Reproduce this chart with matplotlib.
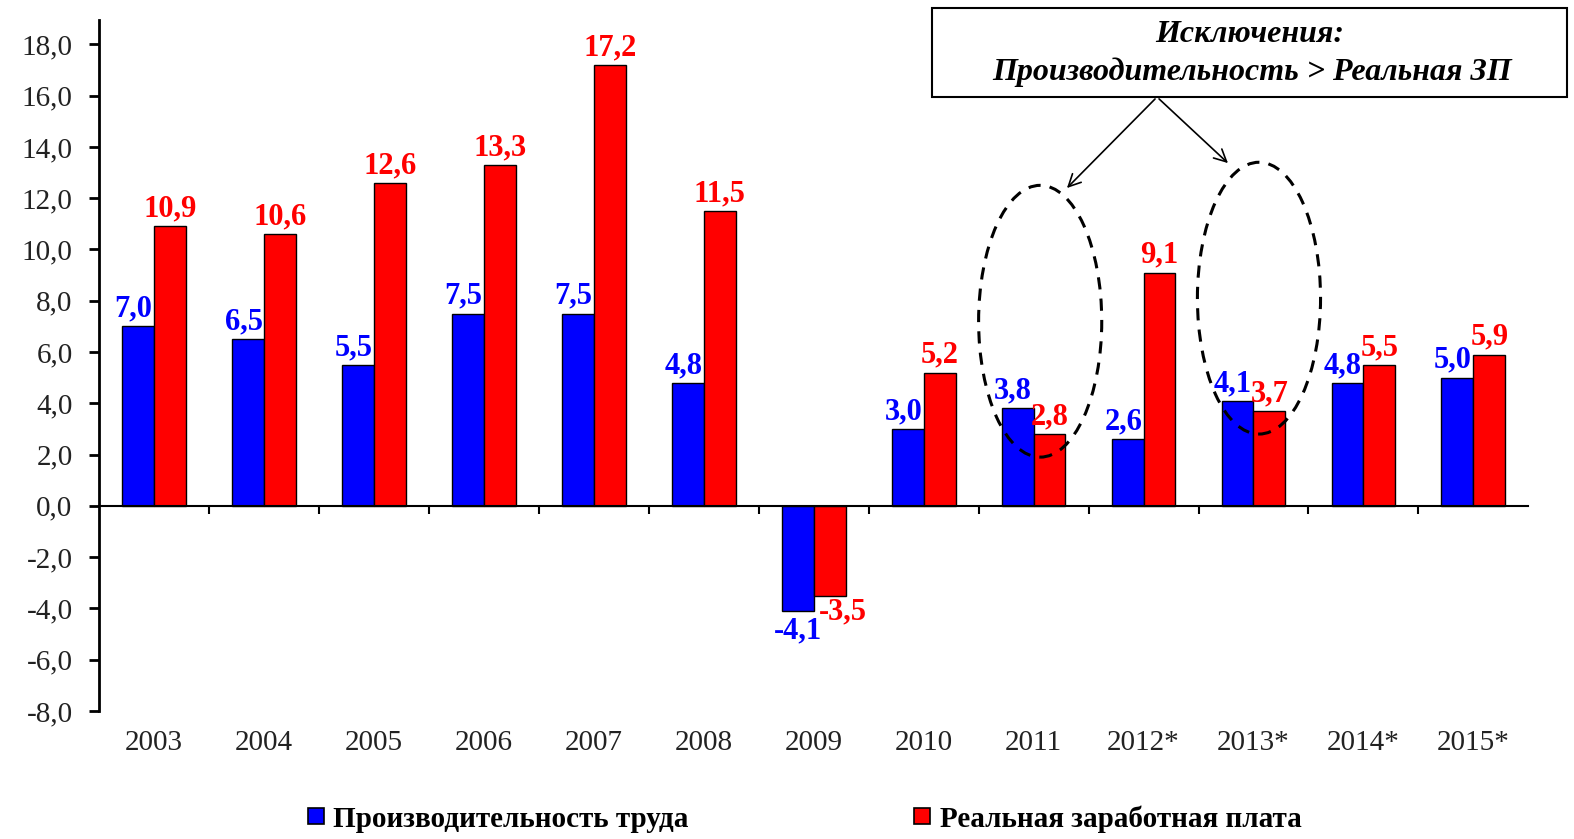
import numpy as np
import matplotlib
matplotlib.use("Agg")
import matplotlib.pyplot as plt
from matplotlib.patches import Ellipse, Rectangle
from matplotlib.ticker import FuncFormatter, MultipleLocator
from matplotlib.lines import Line2D

# data
years = ['2003', '2004', '2005', '2006', '2007', '2008', '2009', '2010',
         '2011', '2012*', '2013*', '2014*', '2015*']
productivity = [7.0, 6.5, 5.5, 7.5, 7.5, 4.8, -4.1, 3.0, 3.8, 2.6, 4.1, 4.8, 5.0]
real_wage = [10.9, 10.6, 12.6, 13.3, 17.2, 11.5, -3.5, 5.2, 2.8, 9.1, 3.7, 5.5, 5.9]
series_names = ['Производительность труда', 'Реальная заработная плата']
exceptions = ['2011', '2013*']   # years where productivity > real wage

plt.rcParams['font.family'] = ['Liberation Serif', 'DejaVu Serif']

fig = plt.figure(figsize=(15.74, 8.39), dpi=100)
ax = fig.add_axes([0.0629, 0.1526, 0.9081, 0.8236])

x = np.arange(len(years))
w = 0.29
blue = '#0000ff'
red = '#ff0000'

ax.bar(x - w / 2, productivity, w, color=blue, edgecolor='black', linewidth=1)
ax.bar(x + w / 2, real_wage, w, color=red, edgecolor='black', linewidth=1)

ax.set_xlim(-0.5, len(years) - 0.5)
ax.set_ylim(-8, 18.95)

# value labels
def fmt(v):
    return ('%.1f' % v).replace('.', ',')

lab_fs = 22
for xi, v in zip(x, productivity):
    if v >= 0:
        ax.annotate(fmt(v), (xi - w / 2 - 0.04, v), xytext=(0, 2), textcoords='offset points',
                    ha='center', va='bottom', color=blue, fontsize=lab_fs, fontweight='bold')
    else:
        ax.annotate(fmt(v), (xi - w / 2, v), xytext=(0, -4), textcoords='offset points',
                    ha='center', va='top', color=blue, fontsize=lab_fs, fontweight='bold')
for xi, v in zip(x, real_wage):
    if v >= 0:
        ax.annotate(fmt(v), (xi + w / 2, v), xytext=(0, 2), textcoords='offset points',
                    ha='center', va='bottom', color=red, fontsize=lab_fs, fontweight='bold')
    else:
        ax.annotate(fmt(v), (xi + w / 2 + 0.12, v), xytext=(0, -1), textcoords='offset points',
                    ha='center', va='top', color=red, fontsize=lab_fs, fontweight='bold')

# axes styling
for s in ['top', 'right']:
    ax.spines[s].set_visible(False)
ax.spines['left'].set_linewidth(2)
ax.spines['bottom'].set_position(('data', 0))
ax.spines['bottom'].set_linewidth(1.5)

ax.yaxis.set_major_locator(MultipleLocator(2))
ax.yaxis.set_major_formatter(FuncFormatter(lambda v, p: fmt(v)))
ax.tick_params(axis='y', direction='out', length=7, width=2, labelsize=21, pad=12,
               labelcolor='#222222')

ax.set_xticks(x)
ax.set_xticklabels([])
ax.tick_params(axis='x', which='major', length=0)
ax.set_xticks(np.arange(0.5, len(years) - 0.5, 1), minor=True)
ax.tick_params(axis='x', which='minor', direction='out', length=6, width=1.5)

for xi, lab in zip(x, years):
    ax.text(xi, -0.046, lab, transform=ax.get_xaxis_transform(), ha='center', va='center',
            fontsize=21, color='#222222')

# dashed ellipses around exceptions
ell_x = [years.index(e) for e in exceptions]
ell_y = [7.2, 8.1]
for ex, ey in zip(ell_x, ell_y):
    ax.add_patch(Ellipse((ex + 0.06 if ex == 8 else ex + 0.05, ey), 1.12, 10.6, fill=False,
                         edgecolor='black', linestyle=(0, (4, 3)), linewidth=2.2, zorder=5))

# annotation box
box_x0, box_y0 = 932 / 1574, 1 - 97 / 839
box = Rectangle((box_x0, box_y0), (1567 - 932) / 1574, 89 / 839, transform=fig.transFigure,
                fill=True, facecolor='white', edgecolor='black', linewidth=1.5)
fig.patches.append(box)
fig.text(1250 / 1574, 1 - 35 / 839, 'Исключения:', ha='center', va='center',
         fontsize=23, fontweight='bold', style='italic')
fig.text(1252 / 1574, 1 - 72 / 839, 'Производительность > Реальная ЗП', ha='center',
         va='center', fontsize=23, fontweight='bold', style='italic')

start = (1157 / 1574, 1 - 97 / 839)
for end in [(1065 / 1574, 1 - 190 / 839), (1230 / 1574, 1 - 165 / 839)]:
    ax.annotate('', xy=end, xycoords='figure fraction', xytext=start,
                textcoords='figure fraction',
                arrowprops=dict(arrowstyle='->', color='black', lw=1.2,
                                mutation_scale=22))

# legend
handles = [Line2D([], [], marker='s', linestyle='none', markersize=12,
                  markerfacecolor=c, markeredgecolor='black', markeredgewidth=1.2)
           for c in (blue, red)]
fig.legend(handles, series_names, loc='center', bbox_to_anchor=(0.51, 0.024), ncol=2,
           frameon=False, prop={'size': 21, 'weight': 'bold'}, handletextpad=0.2,
           columnspacing=7.6, handlelength=0.8, borderpad=0.2)

fig.savefig('out.png', dpi=100)
